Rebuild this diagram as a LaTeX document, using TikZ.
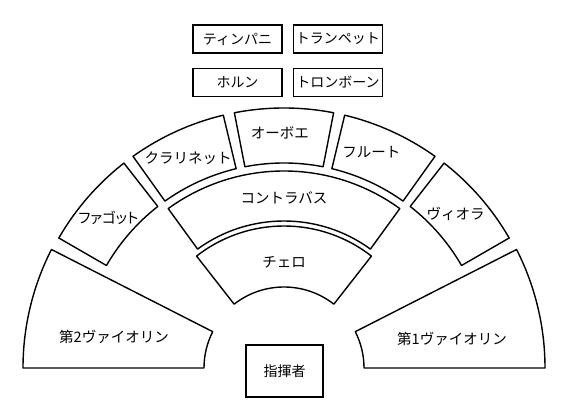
\documentclass[tikz,border=0pt]{standalone}
\usepackage{fontspec}
\newfontfamily\jpfont{Noto Sans CJK JP}
\newfontfamily\jppalt[RawFeature=+palt]{Noto Sans CJK JP}
\usetikzlibrary{positioning}

% one seating area: start angle, end angle, inner radius, outer radius
\newcommand{\seatarea}[4]{%
  \draw[seat] (#1:#4pt) arc[start angle=#1, end angle=#2, radius=#4pt]
    -- (#2:#3pt) arc[start angle=#2, end angle=#1, radius=#3pt] -- cycle;}

\begin{document}
\begin{tikzpicture}[x=1pt, y=1pt,
    seat/.style={draw, line width=1.4pt, line join=round},
    instbox/.style={rectangle, draw, line width=1.4pt,
                 minimum width=89pt, minimum height=28pt, inner sep=0pt,
                 font=\jpfont\fontsize{14}{16}\selectfont},
    lbl/.style={font=\jpfont\fontsize{14.5}{16}\selectfont, inner sep=0pt},
  ]
    \useasboundingbox (-284,-46) rectangle (283,368);

    % strings and winds round the conductor
    \seatarea{0}{27}{80}{261}
    \seatarea{30}{52}{205}{260}
    \seatarea{54.5}{76.5}{205}{260}
    \seatarea{79}{101}{205}{260}
    \seatarea{103.5}{125.5}{205}{260}
    \seatarea{128}{150}{205}{260}
    \seatarea{153}{180}{80}{261}
    \seatarea{54}{126}{147}{197}
    \seatarea{52}{128}{81}{142}

    \node[lbl] (vn1) at (168,29)   {第1ヴァイオリン};
    \node[lbl] (vn2) at (-170,31)  {第2ヴァイオリン};
    \node[lbl] (va)  at (42:231)   {ヴィオラ};
    \node[lbl] (fl)  at (68:233)   {フルート};
    \node[lbl] (ob)  at (91:235)   {オーボエ};
    \node[lbl] (cl)  at (114.5:231){クラリネット};
    \node[lbl, font=\jppalt\fontsize{14.5}{16}\selectfont]
                     (fg)  at (139.5:231){ファゴット};
    \node[lbl] (cb)  at (90:170)   {コントラバス};
    \node[lbl] (vc)  at (90:106)   {チェロ};

    % brass and percussion at the back
    \node[instbox] (timp) at (-46.5,329) {ティンパニ};
    \node[instbox, right=10pt of timp] (trp)  {トランペット};
    \node[instbox, below=14pt of timp] (horn) {ホルン};
    \node[instbox, right=10pt of horn] (trb)  {トロンボーン};

    \node[instbox, minimum width=77pt, minimum height=52pt] (cond) at (0.5,-3) {指揮者};
  \end{tikzpicture}
\end{document}
